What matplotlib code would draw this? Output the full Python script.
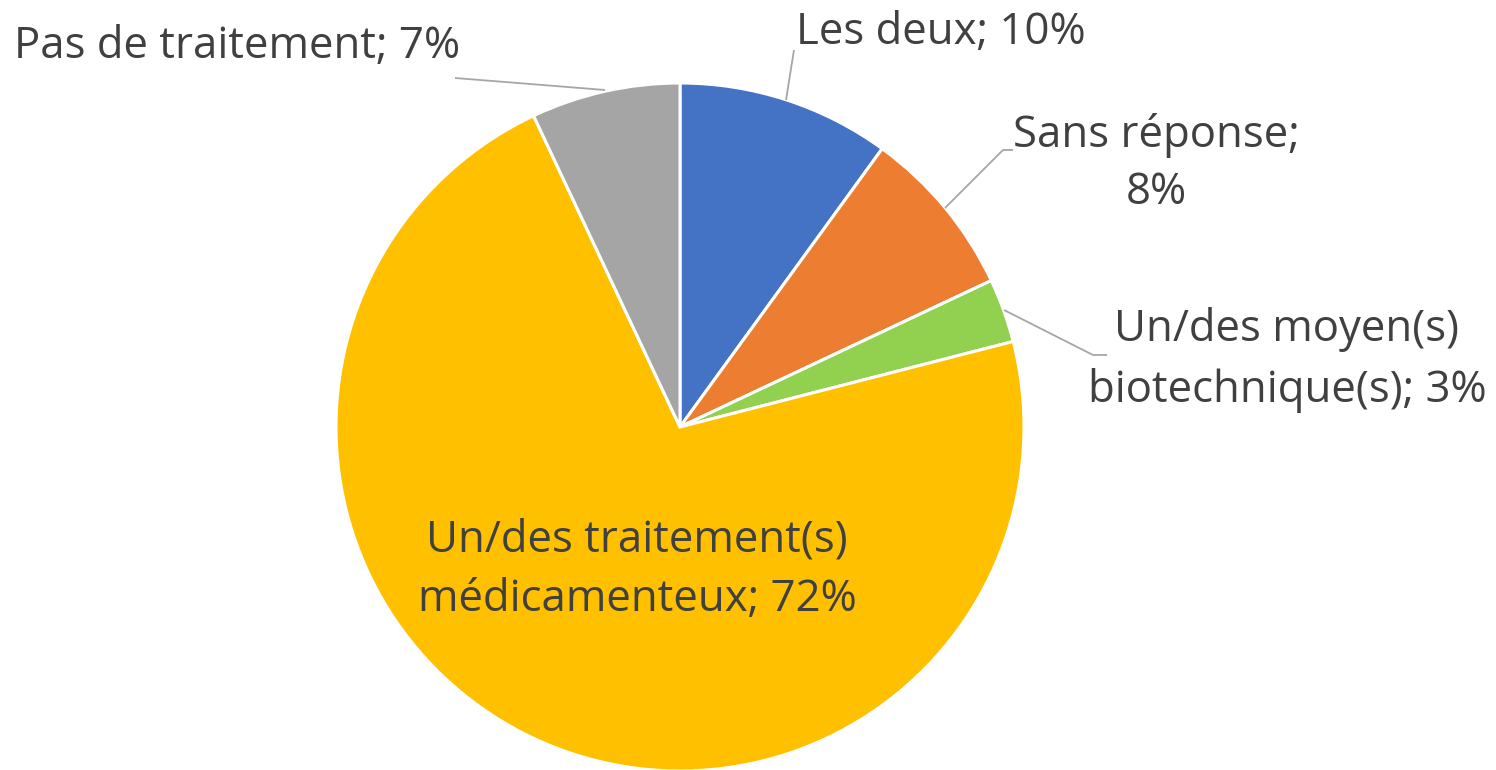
import matplotlib
matplotlib.use("Agg")
import matplotlib.pyplot as plt

categories = ["Les deux", "Sans réponse", "Un/des moyen(s)\nbiotechnique(s)",
              "Un/des traitement(s)\nmédicamenteux", "Pas de traitement"]
values = [10, 8, 3, 72, 7]
colors = ["#4472C4", "#ED7D31", "#92D050", "#FFC000", "#A5A5A5"]

plt.rcParams['font.family'] = ['Open Sans', 'DejaVu Sans']
TXT = "#404040"
LINE = "#A6A6A6"

W, H = 1496, 770
fig = plt.figure(figsize=(W / 100, H / 100), dpi=100)
cx, cy, R = 680, 427, 344
ax = fig.add_axes([(cx - R) / W, (H - cy - R) / H, 2 * R / W, 2 * R / H])
ax.pie(values, colors=colors, startangle=90, counterclock=False, radius=1,
       wedgeprops=dict(edgecolor="white", linewidth=2.2))
ax.set_xlim(-1, 1)
ax.set_ylim(-1, 1)
ax.set_aspect("equal")
ax.axis("off")

def P(px, py):
    return ((px - cx) / R, (cy - py) / R)

fs = 31.5

t_les = f"{categories[0]}; {values[0]}%"
t_sans = f"{categories[1]};\n{values[1]}%"
t_bio = f"{categories[2]}; {values[2]}%"
t_med = f"{categories[3]}; {values[3]}%"
t_pas = f"{categories[4]}; {values[4]}%"

specs = [
    (t_pas, (237, 47), 1.4),
    (t_les, (941, 33), 1.4),
    (t_sans, (1156, 164), 1.38),
    (t_bio, (1287, 360), 1.45),
    (t_med, (637, 570), 1.45),
]
for t, (px, py), ls in specs:
    x, y = P(px, py)
    ax.text(x, y, t, ha="center", va="center", multialignment="center",
            fontsize=fs, color=TXT, linespacing=ls, clip_on=False)

leaders = [
    [(455, 78), (605, 90)],
    [(786, 100), (794, 50)],
    [(945, 208), (1003, 150), (1013, 150)],
    [(1004, 310), (1093, 355), (1107, 355)],
]
for pts in leaders:
    xs, ys = zip(*[P(*p) for p in pts])
    ax.plot(xs, ys, color=LINE, lw=1.3, clip_on=False, solid_capstyle="butt")

fig.savefig("out.png", dpi=100, facecolor="white")
